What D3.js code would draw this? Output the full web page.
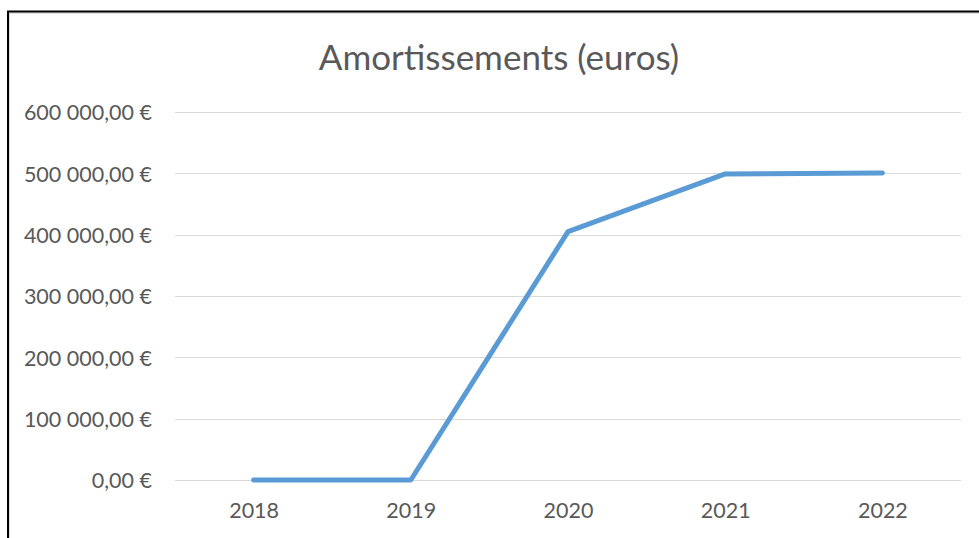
<!DOCTYPE html>
<html>
<head>
<meta charset="utf-8">
<title>Amortissements (euros)</title>
<script src="https://cdn.jsdelivr.net/npm/d3@7"></script>
<style>
body { margin: 0; background: #fff; }
text { font-family: Lato, "Liberation Sans", sans-serif; fill: #595959; }
</style>
</head>
<body>
<svg id="chart"></svg>
<script>
// données
var years = ["2018", "2019", "2020", "2021", "2022"];
var amortissements = [0, 0, 405000, 499000, 500500];
var yTicks = [0, 100000, 200000, 300000, 400000, 500000, 600000];

var w = 979, h = 538;
var margin = { left: 175, right: 18, top: 112, bottom: 58 };

var svg = d3.select("#chart").attr("width", w).attr("height", h);

// cadre
svg.append("rect").attr("x", 9).attr("y", 13).attr("width", w).attr("height", h)
	.attr("fill", "none").attr("stroke", "#d9d9d9").attr("stroke-width", 1.5);
svg.append("rect").attr("x", 8).attr("y", 11.5).attr("width", w).attr("height", h)
	.attr("fill", "none").attr("stroke", "#000").attr("stroke-width", 2);

var x = d3.scalePoint().domain(years)
	.range([margin.left, w - margin.right]).padding(0.5);
var y = d3.scaleLinear().domain([0, 600000])
	.range([h - margin.bottom, margin.top]);

var fr = d3.formatLocale({ decimal: ",", thousands: " ", grouping: [3], currency: ["", " €"] });
var fmt = fr.format("$,.2f");

// grille
svg.append("g").selectAll("line").data(yTicks).join("line")
	.attr("x1", margin.left).attr("x2", w - margin.right)
	.attr("y1", function(d) { return Math.round(y(d)) + 0.5; })
	.attr("y2", function(d) { return Math.round(y(d)) + 0.5; })
	.attr("stroke", "#d9d9d9").attr("stroke-width", 1);

// axe y
var yAxis = svg.append("g")
	.attr("transform", "translate(" + (margin.left - 23) + ",0)")
	.call(d3.axisLeft(y).tickValues(yTicks).tickFormat(fmt).tickSize(0).tickPadding(0));
yAxis.select(".domain").remove();
yAxis.selectAll("text").style("font-size", "21.5px").attr("fill", "#666").attr("dy", "0.36em");

// axe x
var xAxis = svg.append("g")
	.attr("transform", "translate(0," + (h - margin.bottom) + ")")
	.call(d3.axisBottom(x).tickSize(0).tickPadding(23));
xAxis.select(".domain").remove();
xAxis.selectAll("text").style("font-size", "21.5px").attr("fill", "#666");

// ligne
var line = d3.line()
	.x(function(d, i) { return x(years[i]); })
	.y(function(d) { return y(d); });
svg.append("path").datum(amortissements)
	.attr("d", line)
	.attr("fill", "none")
	.attr("stroke", "#5b9bd5")
	.attr("stroke-width", 5)
	.attr("stroke-linecap", "round")
	.attr("stroke-linejoin", "round");

// titre
svg.append("text").attr("x", 499).attr("y", 70)
	.attr("text-anchor", "middle")
	.style("font-size", "35px")
	.attr("fill", "#666")
	.text("Amortissements (euros)");
</script>
</body>
</html>
